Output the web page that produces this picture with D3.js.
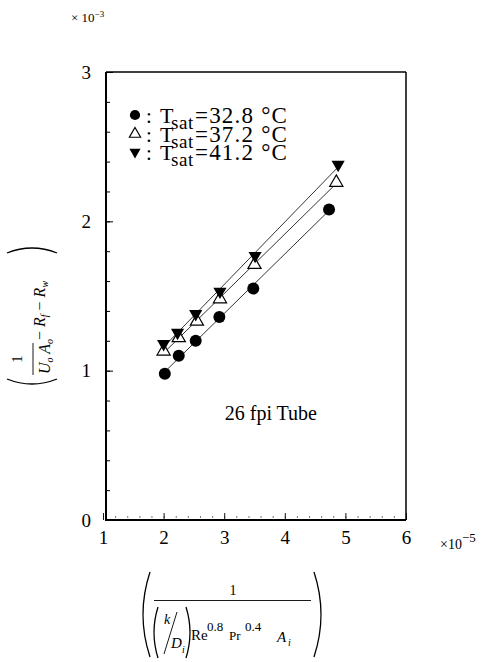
<!DOCTYPE html>
<html><head><meta charset="utf-8">
<script src="https://cdn.jsdelivr.net/npm/d3@7"></script>
<style>
html,body{margin:0;padding:0;background:#fff;}
svg{display:block;font-family:"Liberation Serif","Times New Roman",serif;}
</style></head>
<body>
<svg id="chart" width="484" height="662"></svg>
<script>
// ---- data (x in units of 1e-5, y in units of 1e-3) ----
const legendTemps = ["=32.8 °C", "=37.2 °C", "=41.2 °C"];
const xCircle = [2.02, 2.25, 2.53, 2.92, 3.48, 4.73];
const yCircle = [0.98, 1.10, 1.20, 1.36, 1.55, 2.08];
const xUp     = [2.00, 2.25, 2.55, 2.93, 3.50, 4.85];
const yUp     = [1.13, 1.22, 1.33, 1.48, 1.71, 2.26];
const xDown   = [2.00, 2.23, 2.53, 2.93, 3.51, 4.88];
const yDown   = [1.18, 1.255, 1.38, 1.53, 1.77, 2.38];
const xTicks = [1, 2, 3, 4, 5, 6];
const yTicks = [0, 1, 2, 3];
const annotation = "26 fpi Tube";

const svg = d3.select("#chart");
const pL = 106, pR = 406, pT = 72, pB = 520;

const x = d3.scaleLinear().domain([1, 6]).range([103, pR]);
const y = d3.scaleLinear().domain([0, 3]).range([pB, pT]);

// ---- axes (inward ticks) ----
const xMinor = d3.range(1, 6.001, 0.2);
const yMinor = d3.range(0, 3.001, 0.2);

const gx = svg.append("g").attr("transform", `translate(0,${pB - 2})`)
  .call(d3.axisBottom(x).tickValues(xMinor).tickSize(-2).tickFormat(""));
gx.select(".domain").remove();
gx.selectAll("line").attr("stroke", "#555").attr("stroke-width", 0.8);

const gx2 = svg.append("g").attr("transform", `translate(0,${pB})`)
  .call(d3.axisBottom(x).tickValues(xTicks).tickSize(-7).tickPadding(10).tickFormat(d3.format("d")));
gx2.select(".domain").remove();
gx2.selectAll("line").attr("stroke", "#000").attr("stroke-width", 0.9);
gx2.selectAll("text").attr("font-size", 19).attr("font-family", "Liberation Serif").attr("fill", "#000")
  .attr("dy", "0.72em");

const gy = svg.append("g").attr("transform", `translate(${pL},0)`)
  .call(d3.axisLeft(y).tickValues(yMinor).tickSize(-4).tickFormat(""));
gy.select(".domain").remove();
gy.selectAll("line").attr("stroke", "#000").attr("stroke-width", 1);

const gy2 = svg.append("g").attr("transform", `translate(${pL},0)`)
  .call(d3.axisLeft(y).tickValues(yTicks).tickSize(-7).tickPadding(15).tickFormat(d3.format("d")));
gy2.select(".domain").remove();
gy2.selectAll("line").attr("stroke", "#000").attr("stroke-width", 1);
gy2.selectAll("text").attr("font-size", 19).attr("font-family", "Liberation Serif").attr("fill", "#000");

// frame
svg.append("line").attr("x1", pL).attr("x2", pL).attr("y1", pT).attr("y2", pB + 1)
  .attr("stroke", "#000").attr("stroke-width", 2);
svg.append("line").attr("x1", pL).attr("x2", pR).attr("y1", pB).attr("y2", pB)
  .attr("stroke", "#000").attr("stroke-width", 2);
svg.append("line").attr("x1", pL).attr("x2", pR).attr("y1", pT).attr("y2", pT)
  .attr("stroke", "#000").attr("stroke-width", 1.5);
svg.append("line").attr("x1", pR).attr("x2", pR).attr("y1", pT).attr("y2", pB)
  .attr("stroke", "#000").attr("stroke-width", 1.5);

// exponent labels
const e3 = svg.append("text").attr("x", 71).attr("y", 22).attr("font-size", 13).attr("fill", "#000");
e3.append("tspan").text("× 10");
e3.append("tspan").attr("dy", -5).attr("font-size", 9).text("−3");
const e5 = svg.append("text").attr("x", 440).attr("y", 549).attr("font-size", 14).attr("fill", "#000");
e5.append("tspan").text("×10");
e5.append("tspan").attr("dy", -7).attr("font-size", 13).text("−5");

// ---- fit lines ----
function fit(xs, ys) {
  const n = xs.length, mx = d3.mean(xs), my = d3.mean(ys);
  let sxy = 0, sxx = 0;
  for (let i = 0; i < n; i++) { sxy += (xs[i] - mx) * (ys[i] - my); sxx += (xs[i] - mx) ** 2; }
  const b = sxy / sxx, a = my - b * mx;
  const x0 = d3.min(xs), x1 = d3.max(xs);
  return [[x0, a + b * x0], [x1, a + b * x1]];
}
const series = [
  {xs: xCircle, ys: yCircle, type: "circle"},
  {xs: xUp, ys: yUp, type: "up"},
  {xs: xDown, ys: yDown, type: "down"}
];
const line = d3.line().x(d => x(d[0])).y(d => y(d[1]));
series.forEach(s => {
  svg.append("path").attr("d", line(fit(s.xs, s.ys)))
    .attr("fill", "none").attr("stroke", "#000").attr("stroke-width", 0.8);
});

// ---- markers ----
function drawMarker(g, type, cx, cy, k) {
  k = k || 1;
  if (type === "circle") {
    g.append("circle").attr("cx", cx).attr("cy", cy).attr("r", 6 * k).attr("fill", "#000");
  } else if (type === "up") {
    g.append("path").attr("d", d3.symbol(d3.symbolTriangle, 75 * k * k)())
      .attr("transform", `translate(${cx},${cy})`)
      .attr("fill", "#fff").attr("stroke", "#000").attr("stroke-width", 1.2);
  } else {
    g.append("path").attr("d", d3.symbol(d3.symbolTriangle, 75 * k * k)())
      .attr("transform", `translate(${cx},${cy}) rotate(180)`)
      .attr("fill", "#000");
  }
}
const gm = svg.append("g");
series.forEach(s => {
  s.xs.forEach((xv, i) => drawMarker(gm, s.type, x(xv), y(s.ys[i])));
});

// ---- legend ----
const lg = svg.append("g").attr("fill", "#000");
const rowBase = [123, 142, 160];
series.forEach((s, i) => {
  drawMarker(lg, s.type, 135, rowBase[i] - 8, 0.85);
  lg.append("text").attr("x", 146).attr("y", rowBase[i]).attr("font-size", 21).text(":");
  lg.append("text").attr("x", 160).attr("y", rowBase[i]).attr("font-size", 22).text("T");
  lg.append("text").attr("x", 171).attr("y", rowBase[i] + 6).attr("font-size", 19).attr("letter-spacing", 0.6).text("sat");
  lg.append("text").attr("x", 195).attr("y", rowBase[i]).attr("font-size", 23)
    .attr("letter-spacing", 1.2).text(legendTemps[i]);
});

// annotation
svg.append("text").attr("x", 317).attr("y", 420).attr("text-anchor", "end")
  .attr("font-size", 20).attr("fill", "#000").text(annotation);

// ---- bracket helper ----
function paren(g, x0, y0, y1, bulge) {
  const my = (y0 + y1) / 2;
  g.append("path").attr("d", `M${x0},${y0} Q${x0 - 2 * bulge},${my} ${x0},${y1}`)
    .attr("fill", "none").attr("stroke", "#000").attr("stroke-width", 1.3);
}

// ---- y axis label (rotated) ----
const yl = svg.append("g").attr("transform", "translate(31,316) rotate(-90)");
paren(yl, -63, -24, 26, 5);
paren(yl, 63, -24, 26, -5);
yl.append("text").attr("x", -43).attr("y", -9).attr("text-anchor", "middle").attr("font-size", 15).text("1");
yl.append("line").attr("x1", -59).attr("x2", -27).attr("y1", 2).attr("y2", 2).attr("stroke", "#000").attr("stroke-width", 0.9);
const den = yl.append("text").attr("x", -58).attr("y", 19).attr("font-size", 16).attr("font-style", "italic");
den.append("tspan").text("U");
den.append("tspan").attr("dy", 3).attr("font-size", 10).text("o");
den.append("tspan").attr("dy", -3).text(" A");
den.append("tspan").attr("dy", 3).attr("font-size", 10).text("o");
const rr = yl.append("text").attr("x", -24).attr("y", 14).attr("font-size", 16);
rr.append("tspan").text("− ");
rr.append("tspan").attr("font-style", "italic").text("R");
rr.append("tspan").attr("dy", 3).attr("font-size", 10).attr("font-style", "italic").text("f");
rr.append("tspan").attr("dy", -3).text(" − ");
rr.append("tspan").attr("font-style", "italic").text("R");
rr.append("tspan").attr("dy", 3).attr("font-size", 10).attr("font-style", "italic").text("w");

// ---- x axis label ----
const xl = svg.append("g").attr("fill", "#000");
paren(xl, 150, 572, 657, 7);
paren(xl, 314, 572, 657, -7);
xl.append("text").attr("x", 233).attr("y", 595).attr("text-anchor", "middle").attr("font-size", 14).text("1");
xl.append("line").attr("x1", 154).attr("x2", 311).attr("y1", 600.5).attr("y2", 600.5).attr("stroke", "#000").attr("stroke-width", 0.9);
paren(xl, 158, 607, 658, 4);
paren(xl, 186, 607, 658, -4);
xl.append("text").attr("x", 164).attr("y", 624).attr("font-size", 14).attr("font-style", "italic").text("k");
xl.append("line").attr("x1", 177).attr("y1", 612).attr("x2", 164).attr("y2", 654).attr("stroke", "#000").attr("stroke-width", 0.9);
xl.append("text").attr("x", 171).attr("y", 648).attr("font-size", 15).attr("font-style", "italic").text("D");
xl.append("text").attr("x", 182).attr("y", 653).attr("font-size", 10).attr("font-style", "italic").text("i");
xl.append("text").attr("x", 191).attr("y", 640).attr("font-size", 15).text("Re");
xl.append("text").attr("x", 207).attr("y", 631).attr("font-size", 13).text("0.8");
xl.append("text").attr("x", 229).attr("y", 640).attr("font-size", 13).text("Pr");
xl.append("text").attr("x", 245).attr("y", 631).attr("font-size", 13).text("0.4");
xl.append("text").attr("x", 277).attr("y", 642).attr("font-size", 15).attr("font-style", "italic").text("A");
xl.append("text").attr("x", 288).attr("y", 646).attr("font-size", 10).attr("font-style", "italic").text("i");
</script>
</body></html>
